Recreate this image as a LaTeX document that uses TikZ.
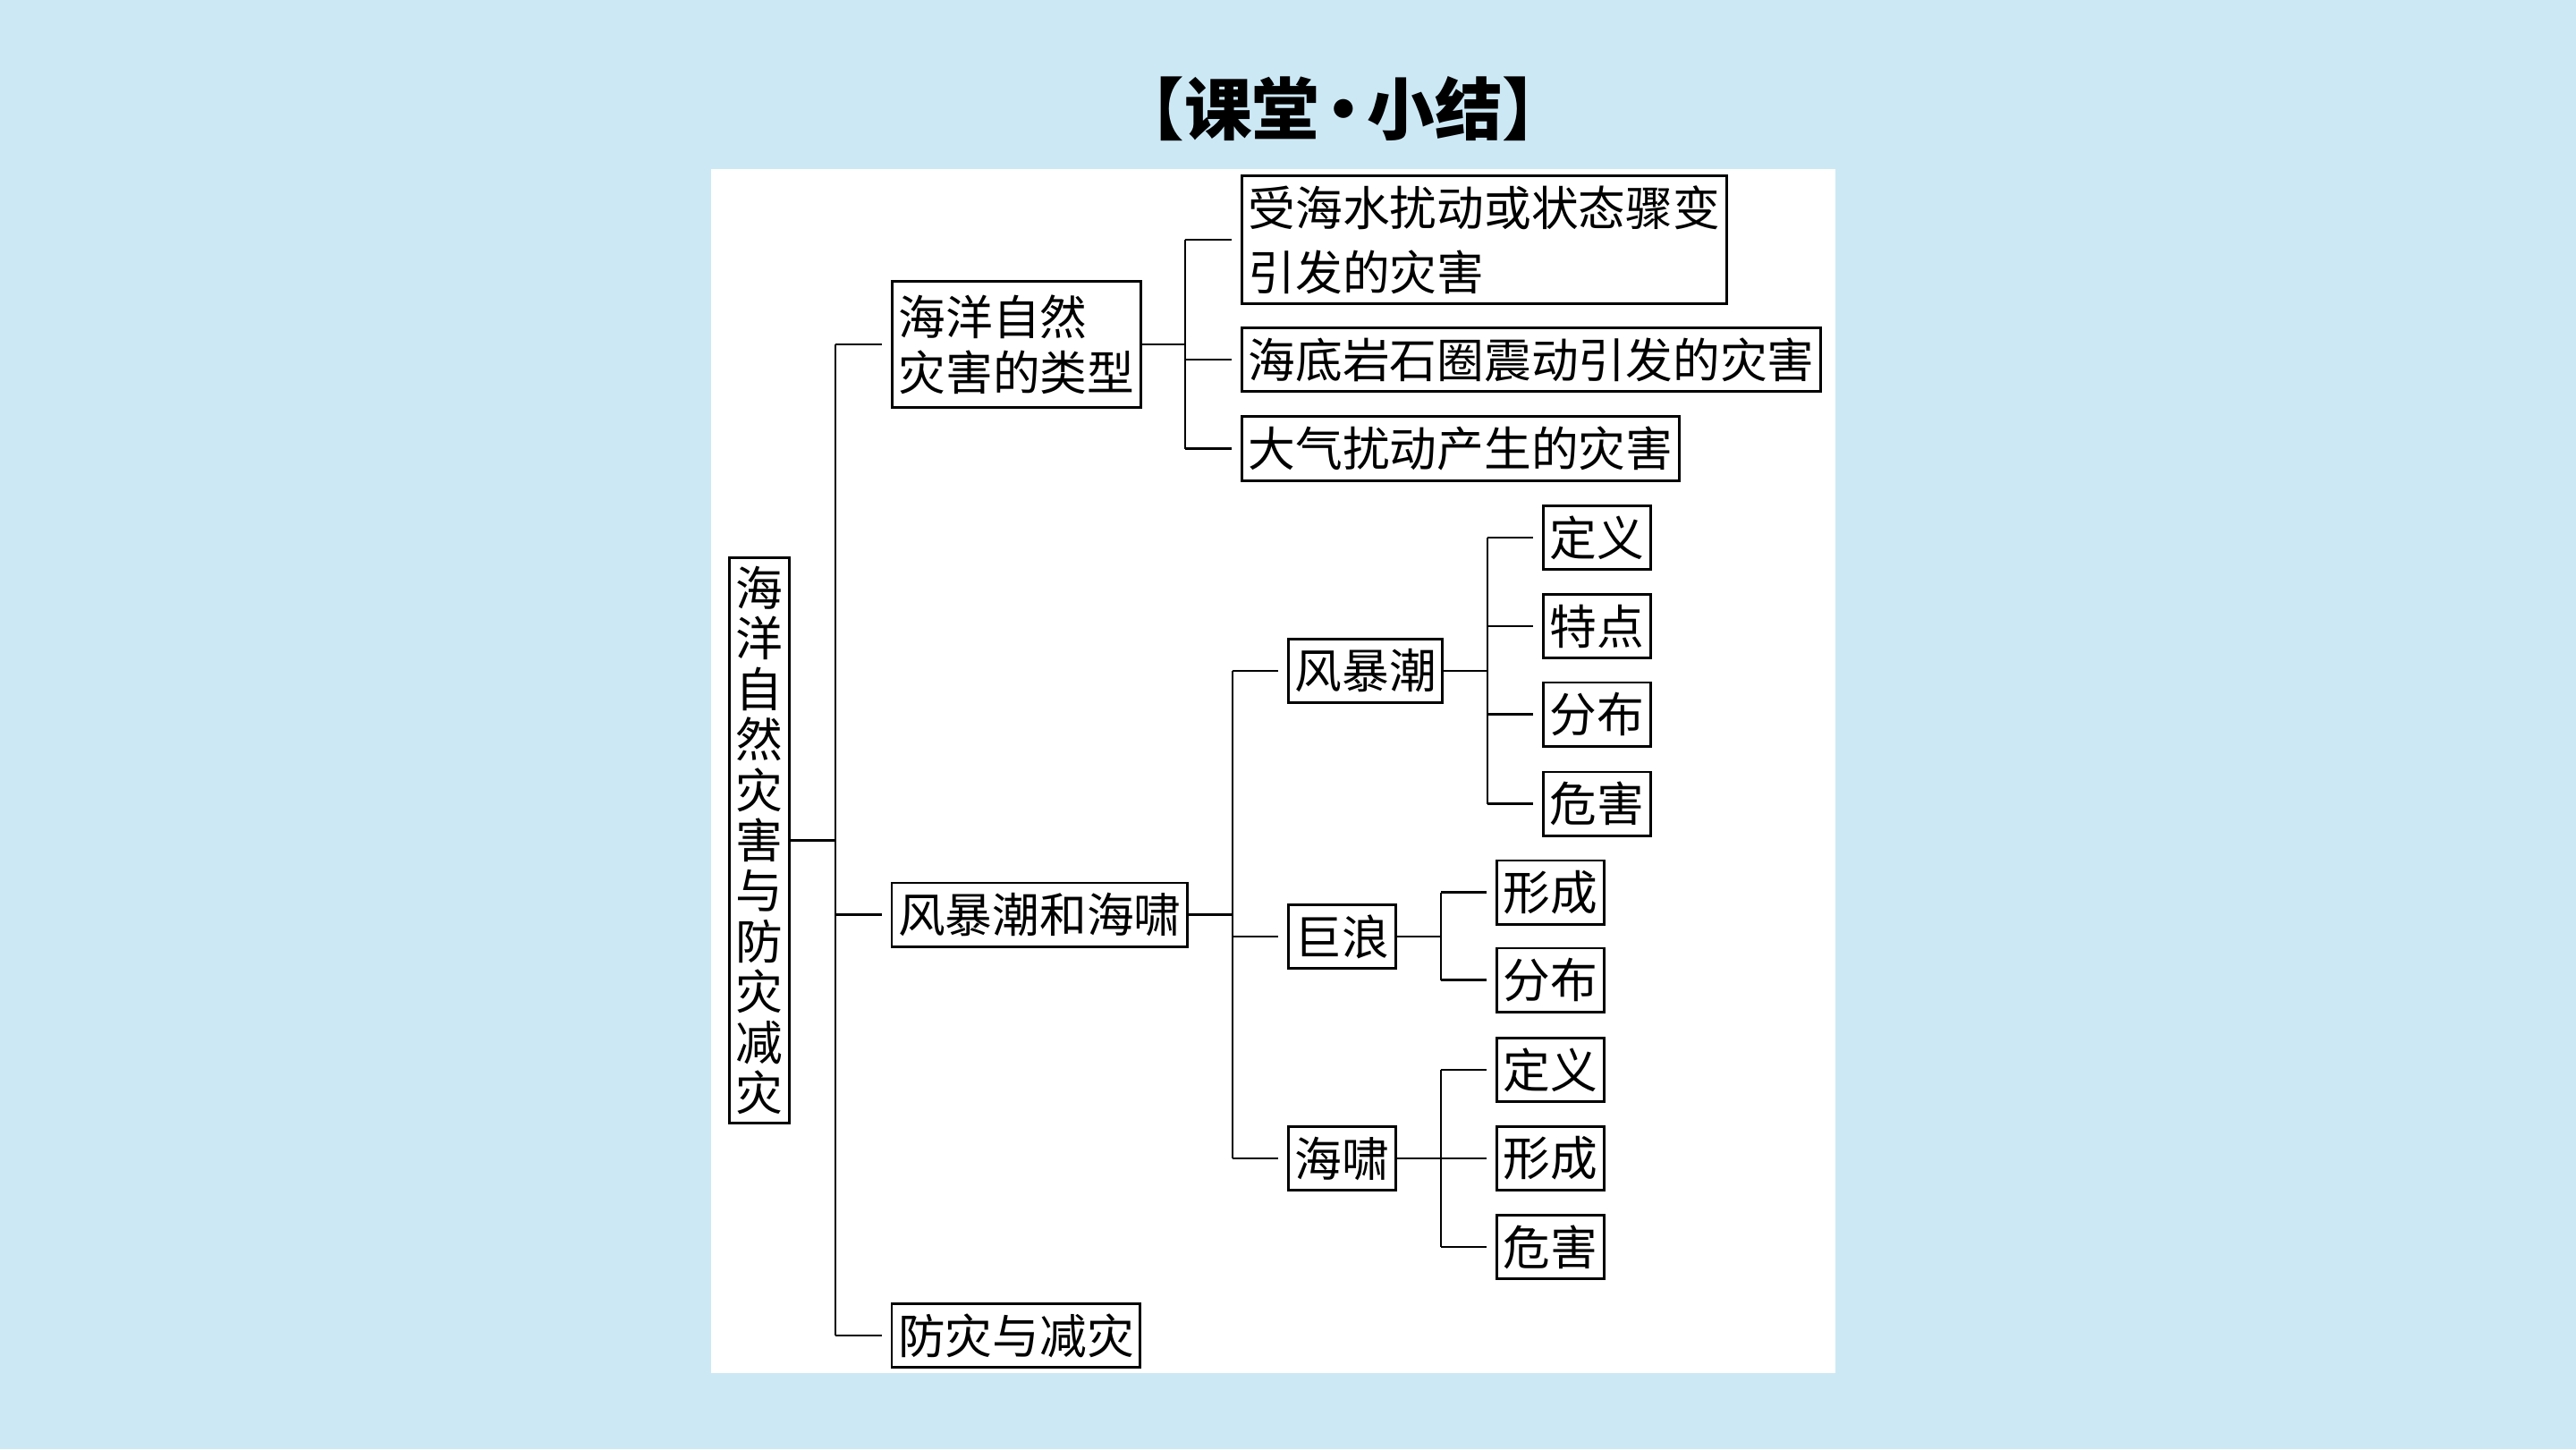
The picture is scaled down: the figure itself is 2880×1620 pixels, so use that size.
\documentclass[tikz,border=0pt]{standalone}
\usepackage{fontspec}
\newfontfamily\cjk{Noto Sans CJK SC}
\usepackage{xcolor}
\definecolor{slidebg}{RGB}{204,232,245}

\begin{document}
\begin{tikzpicture}[
  x=0.01cm, y=-0.01cm,
  every node/.style={font=\cjk\fontsize{15}{17.6}\selectfont},
  mbox/.style={draw, fill=white, line width=0.85pt, inner xsep=0.07cm, inner ysep=0pt, minimum height=0.71cm, anchor=west},
  link/.style={line width=0.6pt},
  tick/.style={line width=0.6pt, shorten >=1mm},
]
% Slide background and white panel
\fill[slidebg] (0,0) rectangle (2880,1620);
\fill[white] (795,189) rectangle (2052,1535);
\useasboundingbox (0,0) rectangle (2880,1620);

\node[font=\cjk\bfseries\fontsize{21.5}{25}\selectfont] (title) at (1502,122) {【课堂\kern-0.15em·\kern-0.15em小结】};

% Root, written top to bottom
\node[mbox, anchor=center, align=center, minimum height=6.31cm, inner xsep=0.075cm,
  font=\cjk\fontsize{15}{16.05}\selectfont]
  (root) at (849,939.5) {海\\洋\\自\\然\\灾\\害\\与\\防\\灾\\减\\灾};

% --- first level ---
\node[mbox, align=left, minimum height=1.4cm] (types) at (996,385) {海洋自然\\灾害的类型};
\node[mbox] (surge)  at (995.5,1022.5) {风暴潮和海啸};
\node[mbox] (defend) at (995.5,1493)   {防灾与减灾};

% --- kinds of hazards ---
\node[mbox, align=left, minimum height=1.42cm] (typeA) at (1387,268) {受海水扰动或状态骤变\\[2.9pt]引发的灾害};
\node[mbox] (typeB) at (1387,402)   {海底岩石圈震动引发的灾害};
\node[mbox] (typeC) at (1387,501.5) {大气扰动产生的灾害};

% --- storm surge, waves, tsunami ---
\node[mbox] (storm) at (1439,750)  {风暴潮};
\node[mbox] (wave)  at (1439,1047) {巨浪};
\node[mbox] (tsun)  at (1439,1295) {海啸};

\node[mbox] (stDef)  at (1724,601)   {定义};
\node[mbox] (stFeat) at (1724,700)   {特点};
\node[mbox] (stDist) at (1724,798.5) {分布};
\node[mbox] (stHarm) at (1724,898.5) {危害};

\node[mbox] (wvForm) at (1672,997.5)  {形成};
\node[mbox] (wvDist) at (1672,1095.5) {分布};

\node[mbox] (tsDef)  at (1672,1196) {定义};
\node[mbox] (tsForm) at (1672,1295) {形成};
\node[mbox] (tsHarm) at (1672,1394) {危害};

% Trunk from the root
\coordinate (trunk) at (934,0);
\draw[link] (root.east) -- (root.east -| trunk);
\draw[link] (types.west -| trunk) -- (defend.west -| trunk);
\draw[tick] (types.west -| trunk) -- (types.west);
\draw[tick] (surge.west -| trunk) -- (surge.west);
\draw[tick] (defend.west -| trunk) -- (defend.west);

% Bracket for the kinds
\coordinate (brKind) at (1325,0);
\draw[link] (types.east) -- (types.east -| brKind);
\draw[link] (typeA.west -| brKind) -- (typeC.west -| brKind);
\draw[tick] (typeA.west -| brKind) -- (typeA.west);
\draw[tick] (typeB.west -| brKind) -- (typeB.west);
\draw[tick] (typeC.west -| brKind) -- (typeC.west);

% Bracket for surge / waves / tsunami
\coordinate (brSurge) at (1378,0);
\draw[link] (surge.east) -- (surge.east -| brSurge);
\draw[link] (storm.west -| brSurge) -- (tsun.west -| brSurge);
\draw[tick] (storm.west -| brSurge) -- (storm.west);
\draw[tick] (wave.west -| brSurge) -- (wave.west);
\draw[tick] (tsun.west -| brSurge) -- (tsun.west);

% Storm surge leaves
\coordinate (brStorm) at (1663,0);
\draw[link] (storm.east) -- (storm.east -| brStorm);
\draw[link] (stDef.west -| brStorm) -- (stHarm.west -| brStorm);
\draw[tick] (stDef.west -| brStorm) -- (stDef.west);
\draw[tick] (stFeat.west -| brStorm) -- (stFeat.west);
\draw[tick] (stDist.west -| brStorm) -- (stDist.west);
\draw[tick] (stHarm.west -| brStorm) -- (stHarm.west);

% Wave leaves
\coordinate (brWave) at (1611,0);
\draw[link] (wave.east) -- (wave.east -| brWave);
\draw[link] (wvForm.west -| brWave) -- (wvDist.west -| brWave);
\draw[tick] (wvForm.west -| brWave) -- (wvForm.west);
\draw[tick] (wvDist.west -| brWave) -- (wvDist.west);

% Tsunami leaves
\draw[link] (tsun.east) -- (tsun.east -| brWave);
\draw[link] (tsDef.west -| brWave) -- (tsHarm.west -| brWave);
\draw[tick] (tsDef.west -| brWave) -- (tsDef.west);
\draw[tick] (tsForm.west -| brWave) -- (tsForm.west);
\draw[tick] (tsHarm.west -| brWave) -- (tsHarm.west);
\end{tikzpicture}
\end{document}
